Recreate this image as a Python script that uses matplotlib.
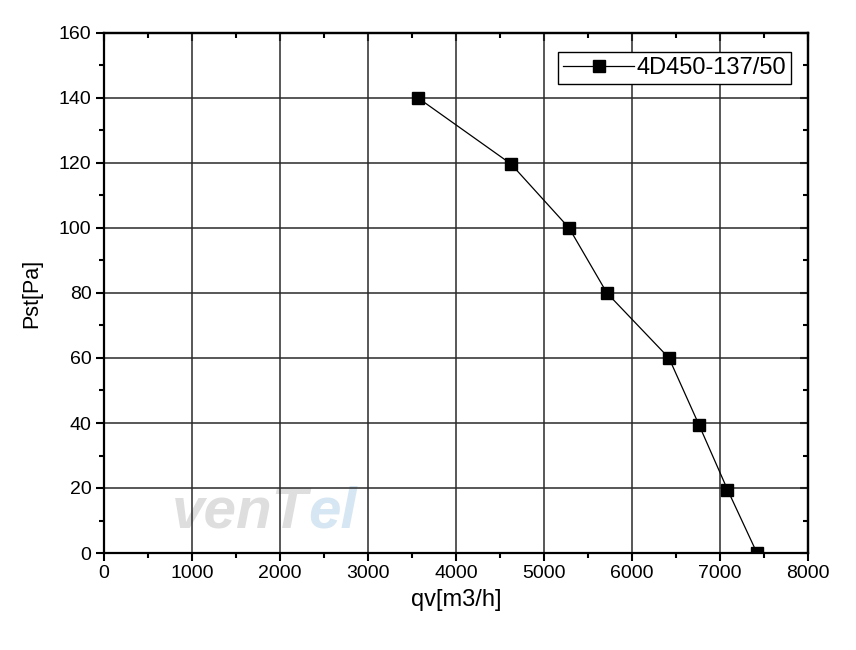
import matplotlib
matplotlib.use("Agg")
import matplotlib.pyplot as plt
from matplotlib.ticker import MultipleLocator

plt.rcParams['font.family'] = ['Liberation Sans', 'DejaVu Sans']

qv = [3570, 4625, 5285, 5715, 6420, 6760, 7085, 7420]
pst = [140, 119.7, 100, 80, 60, 39.5, 19.5, 0]
series_name = "4D450-137/50"
x_label = "qv[m3/h]"
y_label = "Pst[Pa]"

fig = plt.figure(figsize=(8.56, 6.5), dpi=100)
ax = fig.add_axes([104/856, 97/650, (808-104)/856, (553-33)/650])

ax.set_xlim(0, 8000)
ax.set_ylim(0, 160)
ax.xaxis.set_major_locator(MultipleLocator(1000))
ax.xaxis.set_minor_locator(MultipleLocator(500))
ax.yaxis.set_major_locator(MultipleLocator(20))
ax.yaxis.set_minor_locator(MultipleLocator(10))

ax.grid(True, which='major', color='#2a2a2a', linewidth=1.1)
ax.set_axisbelow(True)

# faint watermark
ax.text(0.29, 0.025, "venT", transform=ax.transAxes, fontsize=42, fontweight='heavy',
        style='italic', color='#dedede', ha='right', va='bottom', zorder=0.5)
ax.text(0.29, 0.025, "el", transform=ax.transAxes, fontsize=42, fontweight='heavy',
        style='italic', color='#d6e6f3', ha='left', va='bottom', zorder=0.5)

ax.plot(qv, pst, color='black', linewidth=0.9, marker='s', markersize=9,
        markerfacecolor='black', markeredgecolor='black', label=series_name, zorder=3)

for s in ax.spines.values():
    s.set_linewidth(1.6)
    s.set_color('black')

ax.tick_params(which='both', direction='out', width=1.5, color='black', top=False, right=False)
ax.tick_params(which='major', length=6, labelsize=14, pad=3)
ax.tick_params(which='minor', length=3.5)
# top/right ticks inward
sx = ax.secondary_xaxis('top')
sx.xaxis.set_major_locator(MultipleLocator(1000))
sx.xaxis.set_minor_locator(MultipleLocator(500))
sx.tick_params(which='both', direction='in', width=1.5, labeltop=False)
sx.tick_params(which='major', length=6)
sx.tick_params(which='minor', length=3.5)
sx.spines['top'].set_linewidth(1.6)
sy = ax.secondary_yaxis('right')
sy.yaxis.set_major_locator(MultipleLocator(20))
sy.yaxis.set_minor_locator(MultipleLocator(10))
sy.tick_params(which='both', direction='in', width=1.5, labelright=False)
sy.tick_params(which='major', length=6)
sy.tick_params(which='minor', length=3.5)
sy.spines['right'].set_linewidth(1.6)

ax.set_xlabel(x_label, fontsize=17, labelpad=5)
ax.set_ylabel(y_label, fontsize=15.5, labelpad=12)

leg = ax.legend(loc='upper right', bbox_to_anchor=(0.9755, 0.963), fontsize=17, numpoints=1,
                handlelength=3.0, handletextpad=0.1, borderpad=0.2, borderaxespad=0,
                fancybox=False, framealpha=1, edgecolor='black')
leg.get_frame().set_linewidth(1.0)

fig.savefig("out.png", dpi=100)
